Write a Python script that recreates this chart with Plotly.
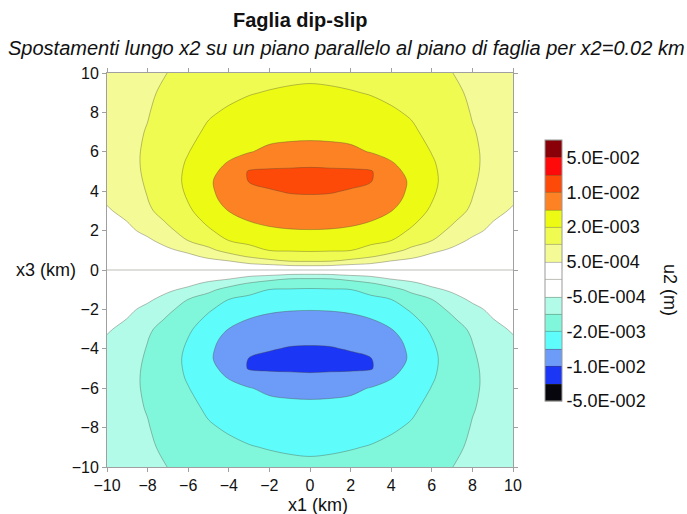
import numpy as np
import plotly.graph_objects as go

# ---------------- data ----------------
x1_km = [-10, -9, -8, -7, -6, -5, -4, -3, -2, -1, 0, 1, 2, 3, 4, 5, 6, 7, 8, 9, 10]

x3_km = [10, 9, 8, 7, 6, 5.5, 5, 4.5, 4, 3.5, 3, 2.5, 2, 1.5, 1, 0.7, 0.45, 0.25, 0.1,
         -0.1, -0.25, -0.45, -0.7, -1, -1.5, -2, -2.5, -3, -3.5, -4, -4.5, -5, -5.5, -6, -7, -8, -9, -10]

# u2 displacement in millimetres, upper half (x3 > 0), rows follow x3_km
u2_top_mm = [
    [0.7, 0.775, 0.875, 1.01, 1.15, 1.3, 1.45, 1.6, 1.7, 1.8, 1.85, 1.8, 1.7, 1.6, 1.45, 1.3, 1.15, 1.01, 0.875, 0.775, 0.7],
    [0.725, 0.81, 0.925, 1.2, 1.35, 1.6, 1.8, 1.95, 2.15, 2.33, 2.39, 2.33, 2.15, 1.95, 1.8, 1.6, 1.35, 1.2, 0.925, 0.81, 0.725],
    [0.75, 0.85, 0.975, 1.35, 1.55, 1.9, 2.33, 2.87, 3.17, 3.32, 3.38, 3.32, 3.17, 2.87, 2.33, 1.9, 1.55, 1.35, 0.975, 0.85, 0.75],
    [0.775, 0.88, 1.05, 1.48, 1.75, 2.45, 3.38, 3.86, 4.16, 4.28, 4.34, 4.28, 4.16, 3.86, 3.38, 2.45, 1.75, 1.48, 1.05, 0.88, 0.775],
    [0.79, 0.9, 1.11, 1.57, 1.97, 3.35, 4.46, 4.88, 5.85, 6.3, 6.45, 6.3, 5.85, 4.88, 4.46, 3.35, 1.97, 1.57, 1.11, 0.9, 0.79],
    [0.79, 0.9, 1.12, 1.6, 2.24, 3.86, 5.1, 7.15, 8.4, 8.75, 8.9, 8.75, 8.4, 7.15, 5.1, 3.86, 2.24, 1.6, 1.12, 0.9, 0.79],
    [0.775, 0.89, 1.11, 1.6, 2.48, 4.34, 6.25, 10.8, 11.2, 11.3, 11.6, 11.3, 11.2, 10.8, 6.25, 4.34, 2.48, 1.6, 1.11, 0.89, 0.775],
    [0.75, 0.87, 1.08, 1.58, 2.6, 4.55, 7.5, 10.3, 11.8, 13.1, 13.8, 13.1, 11.8, 10.3, 7.5, 4.55, 2.6, 1.58, 1.08, 0.87, 0.75],
    [0.675, 0.825, 1.04, 1.52, 2.42, 4.4, 7.25, 8.6, 9.7, 10.6, 10.9, 10.6, 9.7, 8.6, 7.25, 4.4, 2.42, 1.52, 1.04, 0.825, 0.675],
    [0.54, 0.75, 0.99, 1.42, 2.06, 3.86, 6.75, 7.45, 8.45, 9.0, 9.1, 9.0, 8.45, 7.45, 6.75, 3.86, 2.06, 1.42, 0.99, 0.75, 0.54],
    [0.45, 0.625, 0.94, 1.3, 1.88, 3.2, 5.1, 6.3, 7.15, 7.6, 7.7, 7.6, 7.15, 6.3, 5.1, 3.2, 1.88, 1.3, 0.94, 0.625, 0.45],
    [0.35, 0.51, 0.8, 1.1, 1.65, 2.54, 4.07, 5.1, 5.9, 6.2, 6.3, 6.2, 5.9, 5.1, 4.07, 2.54, 1.65, 1.1, 0.8, 0.51, 0.35],
    [0.25, 0.4, 0.625, 0.925, 1.3, 1.9, 3.02, 3.92, 4.61, 4.85, 4.91, 4.85, 4.61, 3.92, 3.02, 1.9, 1.3, 0.925, 0.625, 0.4, 0.25],
    [0.175, 0.275, 0.425, 0.675, 1.02, 1.4, 2.03, 2.72, 3.32, 3.53, 3.59, 3.53, 3.32, 2.72, 2.03, 1.4, 1.02, 0.675, 0.425, 0.275, 0.175],
    [0.11, 0.175, 0.275, 0.425, 0.6, 0.9, 1.29, 1.69, 2.06, 2.21, 2.3, 2.21, 2.06, 1.69, 1.29, 0.9, 0.6, 0.425, 0.275, 0.175, 0.11],
    [0.08, 0.125, 0.19, 0.275, 0.4, 0.6, 0.85, 1.11, 1.42, 1.54, 1.6, 1.54, 1.42, 1.11, 0.85, 0.6, 0.4, 0.275, 0.19, 0.125, 0.08],
    [0.055, 0.085, 0.125, 0.175, 0.24, 0.375, 0.48, 0.74, 0.885, 1.02, 1.06, 1.02, 0.885, 0.74, 0.48, 0.375, 0.24, 0.175, 0.125, 0.085, 0.055],
    [0.035, 0.05, 0.07, 0.1, 0.14, 0.21, 0.265, 0.355, 0.445, 0.55, 0.575, 0.55, 0.445, 0.355, 0.265, 0.21, 0.14, 0.1, 0.07, 0.05, 0.035],
    [0.015, 0.02, 0.03, 0.04, 0.06, 0.085, 0.105, 0.145, 0.18, 0.215, 0.225, 0.215, 0.18, 0.145, 0.105, 0.085, 0.06, 0.04, 0.03, 0.02, 0.015],
]

# u2 displacement in millimetres, lower half (x3 < 0), rows follow x3_km
u2_bottom_mm = [
    [-0.015, -0.02, -0.03, -0.04, -0.06, -0.085, -0.105, -0.145, -0.18, -0.215, -0.225, -0.215, -0.18, -0.145, -0.105, -0.085, -0.06, -0.04, -0.03, -0.02, -0.015],
    [-0.035, -0.05, -0.07, -0.1, -0.14, -0.21, -0.265, -0.355, -0.445, -0.55, -0.575, -0.55, -0.445, -0.355, -0.265, -0.21, -0.14, -0.1, -0.07, -0.05, -0.035],
    [-0.055, -0.085, -0.125, -0.175, -0.24, -0.375, -0.48, -0.74, -0.885, -1.02, -1.06, -1.02, -0.885, -0.74, -0.48, -0.375, -0.24, -0.175, -0.125, -0.085, -0.055],
    [-0.08, -0.125, -0.19, -0.275, -0.4, -0.6, -0.85, -1.11, -1.42, -1.54, -1.6, -1.54, -1.42, -1.11, -0.85, -0.6, -0.4, -0.275, -0.19, -0.125, -0.08],
    [-0.11, -0.175, -0.275, -0.425, -0.6, -0.9, -1.29, -1.69, -2.06, -2.21, -2.3, -2.21, -2.06, -1.69, -1.29, -0.9, -0.6, -0.425, -0.275, -0.175, -0.11],
    [-0.175, -0.275, -0.425, -0.675, -1.02, -1.4, -2.03, -2.72, -3.32, -3.53, -3.59, -3.53, -3.32, -2.72, -2.03, -1.4, -1.02, -0.675, -0.425, -0.275, -0.175],
    [-0.25, -0.4, -0.625, -0.925, -1.3, -1.9, -3.02, -3.92, -4.61, -4.85, -4.91, -4.85, -4.61, -3.92, -3.02, -1.9, -1.3, -0.925, -0.625, -0.4, -0.25],
    [-0.35, -0.51, -0.8, -1.1, -1.65, -2.54, -4.07, -5.1, -5.9, -6.2, -6.3, -6.2, -5.9, -5.1, -4.07, -2.54, -1.65, -1.1, -0.8, -0.51, -0.35],
    [-0.45, -0.625, -0.94, -1.3, -1.88, -3.2, -5.1, -6.3, -7.15, -7.6, -7.7, -7.6, -7.15, -6.3, -5.1, -3.2, -1.88, -1.3, -0.94, -0.625, -0.45],
    [-0.54, -0.75, -0.99, -1.42, -2.06, -3.86, -6.75, -7.45, -8.45, -9.0, -9.1, -9.0, -8.45, -7.45, -6.75, -3.86, -2.06, -1.42, -0.99, -0.75, -0.54],
    [-0.675, -0.825, -1.04, -1.52, -2.42, -4.4, -7.25, -8.6, -9.7, -10.6, -10.9, -10.6, -9.7, -8.6, -7.25, -4.4, -2.42, -1.52, -1.04, -0.825, -0.675],
    [-0.75, -0.87, -1.08, -1.58, -2.6, -4.55, -7.5, -10.3, -11.8, -13.1, -13.8, -13.1, -11.8, -10.3, -7.5, -4.55, -2.6, -1.58, -1.08, -0.87, -0.75],
    [-0.775, -0.89, -1.11, -1.6, -2.48, -4.34, -6.25, -10.8, -11.2, -11.3, -11.6, -11.3, -11.2, -10.8, -6.25, -4.34, -2.48, -1.6, -1.11, -0.89, -0.775],
    [-0.79, -0.9, -1.12, -1.6, -2.24, -3.86, -5.1, -7.15, -8.4, -8.75, -8.9, -8.75, -8.4, -7.15, -5.1, -3.86, -2.24, -1.6, -1.12, -0.9, -0.79],
    [-0.79, -0.9, -1.11, -1.57, -1.97, -3.35, -4.46, -4.88, -5.85, -6.3, -6.45, -6.3, -5.85, -4.88, -4.46, -3.35, -1.97, -1.57, -1.11, -0.9, -0.79],
    [-0.775, -0.88, -1.05, -1.48, -1.75, -2.45, -3.38, -3.86, -4.16, -4.28, -4.34, -4.28, -4.16, -3.86, -3.38, -2.45, -1.75, -1.48, -1.05, -0.88, -0.775],
    [-0.75, -0.85, -0.975, -1.35, -1.55, -1.9, -2.33, -2.87, -3.17, -3.32, -3.38, -3.32, -3.17, -2.87, -2.33, -1.9, -1.55, -1.35, -0.975, -0.85, -0.75],
    [-0.725, -0.81, -0.925, -1.2, -1.35, -1.6, -1.8, -1.95, -2.15, -2.33, -2.39, -2.33, -2.15, -1.95, -1.8, -1.6, -1.35, -1.2, -0.925, -0.81, -0.725],
    [-0.7, -0.775, -0.875, -1.01, -1.15, -1.3, -1.45, -1.6, -1.7, -1.8, -1.85, -1.8, -1.7, -1.6, -1.45, -1.3, -1.15, -1.01, -0.875, -0.775, -0.7],
]

# contour level boundaries (m) of the legend
level_values = [-5e-2, -2e-2, -1e-2, -5e-3, -2e-3, -1e-3, -5e-4, 0.0,
                5e-4, 1e-3, 2e-3, 5e-3, 1e-2, 2e-2, 5e-2, 1e-1]
tick_levels = [-5e-2, -1e-2, -2e-3, -5e-4, 5e-4, 2e-3, 1e-2, 5e-2]
tick_labels = ["-5.0E-002", "-1.0E-002", "-2.0E-003", "-5.0E-004",
               "5.0E-004", "2.0E-003", "1.0E-002", "5.0E-002"]
# fill colour of each band between consecutive levels (bottom -> top)
band_colors = ["#06060c", "#1b36f4", "#6d9bf8", "#5ffcfc", "#80f7db", "#b3fbe9",
               "#ffffff", "#ffffff", "#f4fb96", "#f0fb52", "#edfb14",
               "#fd8224", "#fe4a08", "#fe0a0a", "#8a0008"]

# ---------------- build figure ----------------
u2_m = np.array(u2_top_mm + u2_bottom_mm) / 1000.0
lev_idx = np.arange(len(level_values))
z_idx = np.interp(u2_m, level_values, lev_idx)

nlev = len(level_values)          # 16 levels -> 15 bands
nb = len(band_colors)
# stepped colour scale: each band keeps one flat colour
edges = [0.0] + [((k + 0.5) / nb + (k + 1.5) / nlev) / 2 for k in range(nb - 1)] + [1.0]
colorscale = []
for k, c in enumerate(band_colors):
    lo = edges[k] + (1e-6 if k > 0 else 0.0)
    colorscale.append([lo, c])
    colorscale.append([edges[k + 1], c])

tickvals = [level_values.index(v) for v in tick_levels]

FONT = "Liberation Sans, Arial, sans-serif"

fig = go.Figure(go.Contour(
    x=x1_km, y=x3_km, z=z_idx,
    zmin=0, zmax=nlev - 1,
    autocontour=False,
    contours=dict(start=0, end=nlev - 1, size=1, coloring="fill", showlines=True),
    line=dict(color="rgba(70,70,50,0.45)", width=0.8),
    colorscale=colorscale,
    hoverinfo="skip",
    colorbar=dict(
        thickness=17, thicknessmode="pixels",
        len=0.6624, lenmode="fraction",
        x=1.0788, xanchor="left", xpad=0,
        y=0.4987, yanchor="middle", ypad=0,
        outlinewidth=1, outlinecolor="#9a9a9a",
        tickvals=tickvals, ticktext=tick_labels,
        ticks="", tickfont=dict(family=FONT, size=18, color="#111"),
    ),
))

axis_common = dict(
    showgrid=False, zeroline=False, showline=True, linecolor="#a0a0a0", linewidth=1,
    mirror="ticks", ticks="outside", ticklen=4, tickcolor="#a0a0a0",
    tickfont=dict(family=FONT, size=16, color="#111"),
)

fig.update_layout(
    width=687, height=514,
    margin=dict(l=107, r=174, t=73, b=47),
    paper_bgcolor="white", plot_bgcolor="white",
    xaxis=dict(range=[-10, 10], tickvals=list(range(-10, 11, 2)), **axis_common),
    yaxis=dict(range=[-10, 10], tickvals=list(range(-10, 11, 2)), **axis_common),
    annotations=[
        dict(text="<b>Faglia dip-slip</b>", xref="paper", yref="paper", x=0.475, y=1.1345,
             showarrow=False, font=dict(family=FONT, size=20, color="#111"),
             xanchor="center", yanchor="middle"),
        dict(text="<i>Spostamenti lungo x2 su un piano parallelo al piano di faglia per x2=0.02 km</i>",
             xref="paper", yref="paper", x=0.591, y=1.0635, showarrow=False,
             font=dict(family=FONT, size=20, color="#111"), xanchor="center", yanchor="middle"),
        dict(text="x3 (km)", xref="paper", yref="paper", x=-0.0714, y=0.5, showarrow=False,
             font=dict(family=FONT, size=18, color="#111"), xanchor="right", yanchor="middle"),
        dict(text="x1 (km)", xref="paper", yref="paper", x=0.52, y=-0.0965, showarrow=False,
             font=dict(family=FONT, size=18, color="#111"), xanchor="center", yanchor="middle"),
        dict(text="u2 (m)", xref="paper", yref="paper", x=1.3867, y=0.449, showarrow=False,
             textangle=90, font=dict(family=FONT, size=18, color="#111"),
             xanchor="center", yanchor="middle"),
    ],
)

fig.write_html("out.html")
